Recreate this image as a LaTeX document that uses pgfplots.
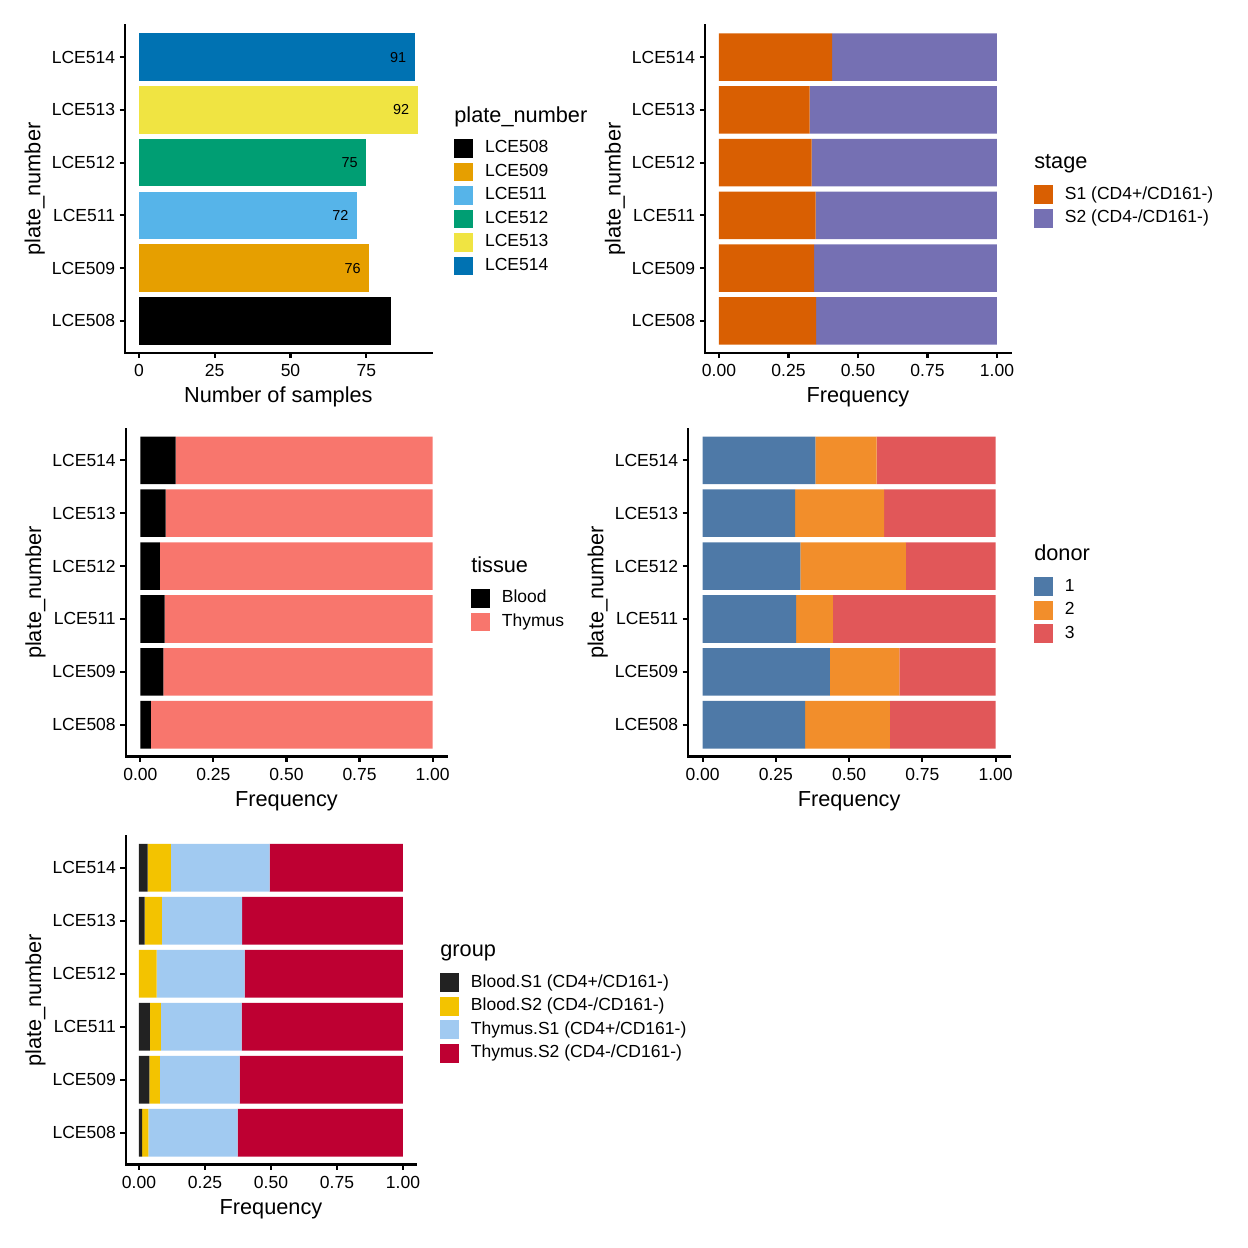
\documentclass[border=0pt]{standalone}
\usepackage{fontspec}
\setmainfont{Liberation Sans}
\usepackage{pgfplots}
\pgfplotsset{compat=1.18}
\definecolor{pA}{HTML}{000000}
\definecolor{pB}{HTML}{E69F00}
\definecolor{pC}{HTML}{56B4E9}
\definecolor{pD}{HTML}{009E73}
\definecolor{pE}{HTML}{F0E442}
\definecolor{pF}{HTML}{0072B2}
\definecolor{sA}{HTML}{D95F02}
\definecolor{sB}{HTML}{7570B3}
\definecolor{tB}{HTML}{000000}
\definecolor{tT}{HTML}{F8766D}
\definecolor{dA}{HTML}{4E79A7}
\definecolor{dB}{HTML}{F28E2B}
\definecolor{dC}{HTML}{E15759}
\definecolor{gA}{HTML}{222222}
\definecolor{gB}{HTML}{F3C300}
\definecolor{gC}{HTML}{A1CAF1}
\definecolor{gD}{HTML}{BE0032}
\pgfplotsset{
  sq/.style={legend image code/.code={\fill[##1, draw=none] (0pt,-4.86pt) rectangle (9.72pt,4.86pt);}},
  base/.style={
    scale only axis,
    anchor=south west,
    axis x line*=bottom, axis y line*=left,
    axis line style={line width=1.1pt, -, line cap=rect},
    tick align=outside,
    major tick length=2.75pt,
    every tick/.style={black, line width=1.1pt},
    ymin=0.4, ymax=6.6, ytick={1,...,6},
    yticklabels={LCE508,LCE509,LCE511,LCE512,LCE513,LCE514},
    /pgf/number format/assume math mode=true,
    tick label style={font=\fontsize{9.1}{11}\selectfont, black},
    yticklabel style={xshift=1.1pt},
    label style={font=\fontsize{11.3}{13}\selectfont},
    xlabel style={yshift=1.6pt},
    ylabel style={yshift=-3.3pt},
    ylabel={plate\_number},
    bar width=0.9,
    legend style={draw=none, fill=none, inner sep=0pt, outer sep=0pt, anchor=north west,
      yshift=-0.95pt,
      row sep=2.5pt, column sep=6.4pt, font=\fontsize{9.1}{11}\selectfont,
      nodes={inner sep=0pt, text height=6.5pt, text depth=1.9pt}},
    legend cell align=left,
  },
  freq/.style={
    base, xbar stacked, sq, xmin=-0.05, xmax=1.05,
    xtick={0,0.25,0.5,0.75,1},
    xticklabel={\pgfmathprintnumber[fixed,fixed zerofill,precision=2]{\tick}},
    xlabel={Frequency},
  },
}
\begin{document}
\begin{tikzpicture}
\useasboundingbox (0,0) rectangle (648.96pt,648.96pt);
% Panel 1
\begin{axis}[base, at={(65.0pt,465.6pt)}, width=159.5pt, height=170.1pt,
  xmin=-4.6, xmax=96.6, xtick={0,25,50,75}, xlabel={Number of samples},
  xbar, bar shift=0pt, sq, point meta=x, nodes near coords,
  every node near coord/.append style={anchor=east, xshift=-4.3pt, inner sep=0pt, font=\fontsize{7.5}{9}\selectfont, text=black},
  legend style={at={(axis description cs:1.0727,0.6583)}, name=leg1}]
\addplot[fill=pA, draw=none] coordinates {(83,1)};
\addlegendentry{LCE508}
\addplot[fill=pB, draw=none] coordinates {(76,2)};
\addlegendentry{LCE509}
\addplot[fill=pC, draw=none] coordinates {(72,3)};
\addlegendentry{LCE511}
\addplot[fill=pD, draw=none] coordinates {(75,4)};
\addlegendentry{LCE512}
\addplot[fill=pE, draw=none] coordinates {(92,5)};
\addlegendentry{LCE513}
\addplot[fill=pF, draw=none] coordinates {(91,6)};
\addlegendentry{LCE514}
\end{axis}
\node[anchor=base west, inner sep=0pt, font=\fontsize{11.3}{13}\selectfont] at ([yshift=8.6pt]leg1.north west) {plate\_number};
% Panel 2
\begin{axis}[freq, at={(366.65pt,465.6pt)}, width=159.0pt, height=170.1pt,
  legend style={at={(axis description cs:1.0755,0.5165)}, name=leg2}]
\addplot[fill=sA, draw=none] coordinates {(0.3494,1) (0.3421,2) (0.3472,3) (0.3333,4) (0.3261,5) (0.4066,6)};
\addlegendentry{S1 (CD4+/CD161-)}
\addplot[fill=sB, draw=none] coordinates {(0.6506,1) (0.6579,2) (0.6528,3) (0.6667,4) (0.6739,5) (0.5934,6)};
\addlegendentry{S2 (CD4-/CD161-)}
\end{axis}
\node[anchor=base west, inner sep=0pt, font=\fontsize{11.3}{13}\selectfont] at ([yshift=8.6pt]leg2.north west) {stage};
% Panel 3
\begin{axis}[freq, at={(65.36pt,255.6pt)}, width=167.2pt, height=170.5pt,
  legend style={at={(axis description cs:1.0737,0.516)}, name=leg3}]
\addplot[fill=tB, draw=none] coordinates {(0.0361,1) (0.0789,2) (0.0833,3) (0.0667,4) (0.0870,5) (0.1209,6)};
\addlegendentry{Blood}
\addplot[fill=tT, draw=none] coordinates {(0.9639,1) (0.9211,2) (0.9167,3) (0.9333,4) (0.9130,5) (0.8791,6)};
\addlegendentry{Thymus}
\end{axis}
\node[anchor=base west, inner sep=0pt, font=\fontsize{11.3}{13}\selectfont] at ([yshift=8.6pt]leg3.north west) {tissue};
% Panel 4
\begin{axis}[freq, at={(357.76pt,255.6pt)}, width=167.6pt, height=170.5pt,
  legend style={at={(axis description cs:1.0732,0.5514)}, name=leg4}]
\addplot[fill=dA, draw=none] coordinates {(0.3494,1) (0.4342,2) (0.3194,3) (0.3333,4) (0.3152,5) (0.3846,6)};
\addlegendentry{1}
\addplot[fill=dB, draw=none] coordinates {(0.2892,1) (0.2368,2) (0.1250,3) (0.3600,4) (0.3043,5) (0.2088,6)};
\addlegendentry{2}
\addplot[fill=dC, draw=none] coordinates {(0.3614,1) (0.3289,2) (0.5556,3) (0.3067,4) (0.3804,5) (0.4066,6)};
\addlegendentry{3}
\end{axis}
\node[anchor=base west, inner sep=0pt, font=\fontsize{11.3}{13}\selectfont] at ([yshift=8.6pt]leg4.north west) {donor};
% Panel 5
\begin{axis}[freq, at={(65.4pt,43.4pt)}, width=151.0pt, height=170.9pt,
  legend style={at={(axis description cs:1.082,0.587)}, name=leg5}]
\addplot[fill=gA, draw=none] coordinates {(0.0120,1) (0.0395,2) (0.0417,3) (0.0,4) (0.0217,5) (0.0330,6)};
\addlegendentry{Blood.S1 (CD4+/CD161-)}
\addplot[fill=gB, draw=none] coordinates {(0.0241,1) (0.0395,2) (0.0417,3) (0.0667,4) (0.0652,5) (0.0879,6)};
\addlegendentry{Blood.S2 (CD4-/CD161-)}
\addplot[fill=gC, draw=none] coordinates {(0.3373,1) (0.3026,2) (0.3056,3) (0.3333,4) (0.3043,5) (0.3736,6)};
\addlegendentry{Thymus.S1 (CD4+/CD161-)}
\addplot[fill=gD, draw=none] coordinates {(0.6265,1) (0.6184,2) (0.6111,3) (0.6000,4) (0.6087,5) (0.5055,6)};
\addlegendentry{Thymus.S2 (CD4-/CD161-)}
\end{axis}
\node[anchor=base west, inner sep=0pt, font=\fontsize{11.3}{13}\selectfont] at ([yshift=8.6pt]leg5.north west) {group};
\end{tikzpicture}
\end{document}
